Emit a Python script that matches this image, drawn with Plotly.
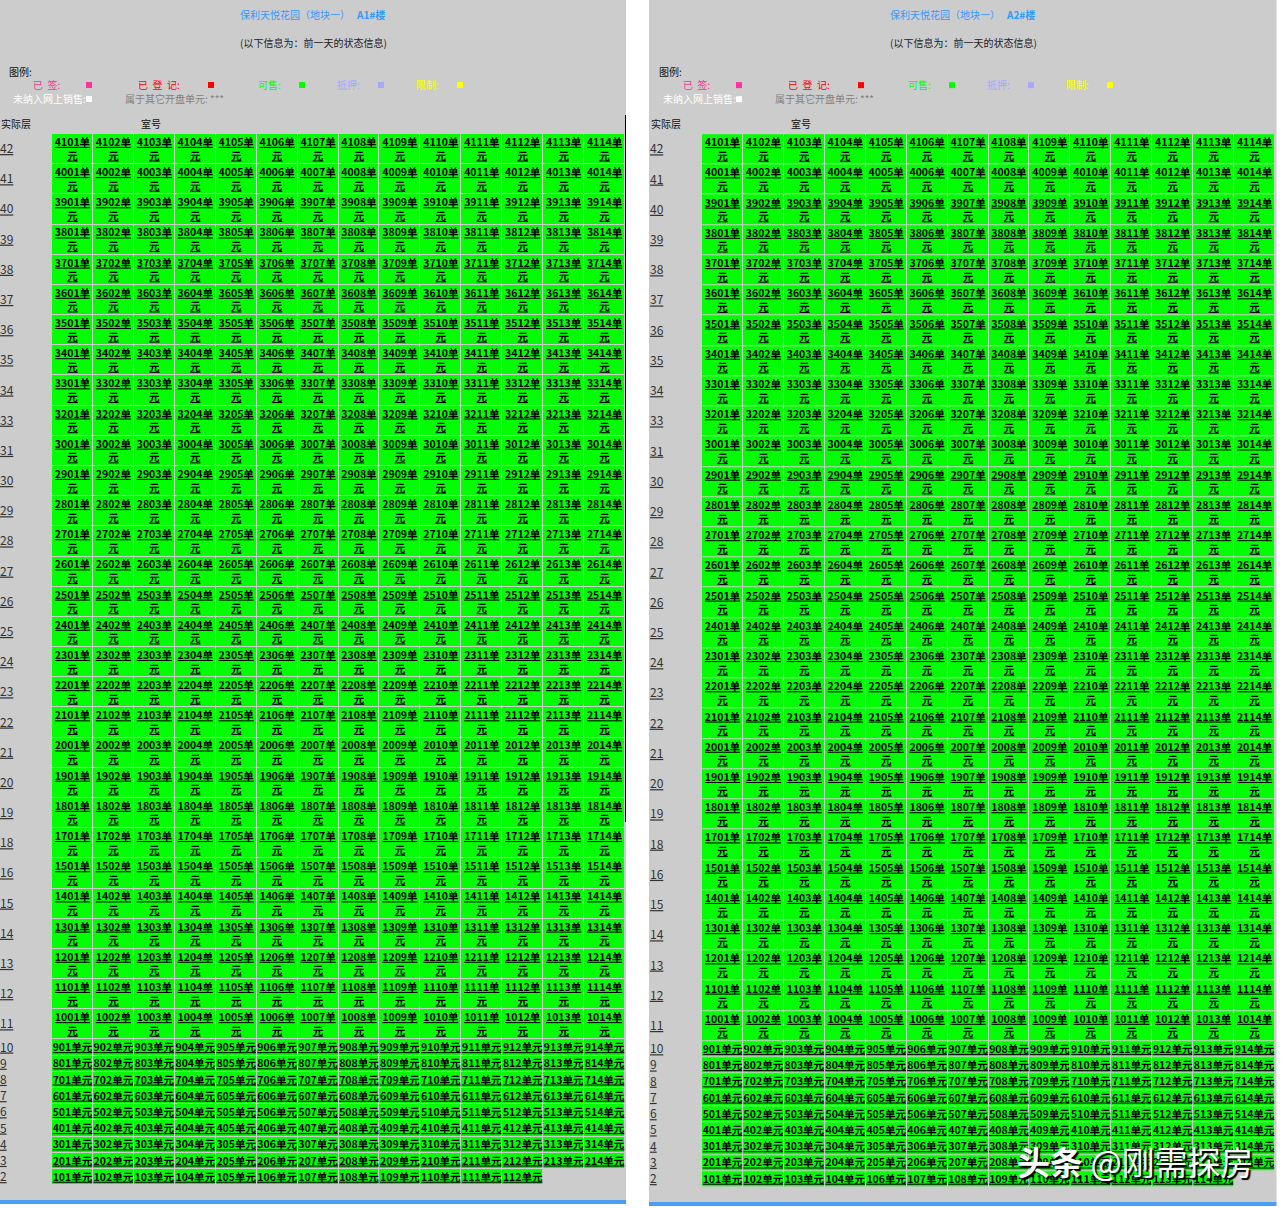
import numpy as np
import plotly.graph_objects as go

# 楼层和房号
floor_labels = [42, 41, 40, 39, 38, 37, 36, 35, 34, 33, 31, 30, 29, 28, 27, 26, 25, 24, 23, 22, 21, 20, 19, 18, 16, 15, 14, 13, 12, 11, 10, 9, 8, 7, 6, 5, 4, 3, 2]
room_prefixes = [41, 40, 39, 38, 37, 36, 35, 34, 33, 32, 30, 29, 28, 27, 26, 25, 24, 23, 22, 21, 20, 19, 18, 17, 15, 14, 13, 12, 11, 10, 9, 8, 7, 6, 5, 4, 3, 2, 1]
room_numbers = [1, 2, 3, 4, 5, 6, 7, 8, 9, 10, 11, 12, 13, 14]
last_row_a = [1, 2, 3, 4, 5, 6, 7, 8, 9, 10, 11, 12]
last_row_b = [1, 2, 3, 4, 6, 7, 8, 9, 10, 11, 12, 13, 14]
building_names = ["A1#楼", "A2#楼"]

project_title = "保利天悦花园（地块一）"
subtitle = "(以下信息为：前一天的状态信息)"
status_labels = ["已\u00a0\u00a0签:", "已\u00a0\u00a0登\u00a0\u00a0记:", "可售:", "抵押:", "限制:", "未纳入网上销售:"]
status_colors = ["#ff3399", "#ff0000", "#00ff00", "#a8a8ff", "#ffff00", "#ffffff"]

# mise en page (px)
GRID_LEFT = 52
COL_W = 40.93
GRID_TOP = 134
TALL = 30.18
SHORT = 16.2
FONT = "Noto Sans CJK SC"

status_text_x = [33, 138, 258, 337, 416, 13]
status_mark_x = [89, 211, 302, 381, 460, 89]
status_y = [85, 85, 85, 85, 85, 99]

heights = [TALL if p >= 10 else SHORT for p in room_prefixes]
y_edges = GRID_TOP + np.concatenate([[0], np.cumsum(heights)])
x_edges = GRID_LEFT + COL_W * np.arange(15)
y_mid = (y_edges[:-1] + y_edges[1:]) / 2

fig = go.Figure()
annotations = []


def note(axis, x, y, text, color="#222222", size=10, anchor="left", **kw):
    # -2 / -1 : les annotations ont un petit padding
    annotations.append(dict(x=x - 2 if anchor == "left" else x, y=y - 1, xref="x" + axis, yref="y" + axis, text=text,
                            showarrow=False, xanchor=anchor, yanchor="middle",
                            font=dict(family=FONT, size=size, color=color, **kw)))


def draw_panel(axis, building, last_row):
    rows = []
    for p in room_prefixes[:-1]:
        rows.append(room_numbers)
    rows.append(last_row)

    z = np.full((len(rows), 14), np.nan)
    tx, ty, labels = [], [], []
    for i, row in enumerate(rows):
        for j, num in enumerate(row):
            z[i, j] = 1
            tx.append(x_edges[j] + COL_W / 2)
            ty.append(y_mid[i] + 1)
            if room_prefixes[i] >= 10:
                labels.append(f"{room_prefixes[i]}{num:02d}单<br>元")
            else:
                labels.append(f"{room_prefixes[i]}{num:02d}单元")

    fig.add_trace(go.Heatmap(z=z, x=x_edges, y=y_edges, xgap=1, ygap=1, zmin=0, zmax=1,
                             colorscale=[[0, "#00ff00"], [1, "#00ff00"]], showscale=False, hoverinfo="skip",
                             xaxis="x" + axis, yaxis="y" + axis))
    fig.add_trace(go.Scatter(x=tx, y=ty, mode="text", text=labels, hoverinfo="skip", showlegend=False,
                             textfont=dict(family=FONT, size=10.5, color="black", weight=700, lineposition="under"),
                             xaxis="x" + axis, yaxis="y" + axis))
    # étages à gauche
    fig.add_trace(go.Scatter(x=[0] * len(floor_labels), y=y_mid + 1, mode="text", text=[str(f) for f in floor_labels],
                             textposition="middle right", hoverinfo="skip", showlegend=False,
                             textfont=dict(family=FONT, size=12, color="#333333", lineposition="under"),
                             xaxis="x" + axis, yaxis="y" + axis))
    # carrés de la légende
    fig.add_trace(go.Scatter(x=status_mark_x, y=status_y, mode="markers", hoverinfo="skip", showlegend=False,
                             marker=dict(symbol="square", size=6, color=status_colors, line=dict(width=0)),
                             xaxis="x" + axis, yaxis="y" + axis))

    note(axis, 240, 15.5, project_title, "#3399ff")
    note(axis, 356, 15.5, building, "#3399ff", weight=700)
    note(axis, 240, 43.5, subtitle, "#222222")
    note(axis, 9, 72, "图例:", "#111111")
    for label, color, x, y in zip(status_labels, status_colors, status_text_x, status_y):
        note(axis, x, y, label, color)
    note(axis, 125, 99, "属于其它开盘单元: ***", "#808080")
    note(axis, 16, 124.5, "实际层", "#111111", anchor="center")
    note(axis, 141, 124.5, "室号", "#111111")


draw_panel("", building_names[0], last_row_a)
draw_panel("2", building_names[1], last_row_b)

# bande bleue en bas + trait noir
shapes = [
    dict(type="rect", xref="paper", yref="paper", x0=0, x1=626 / 1284, y0=1 - 1204 / 1208, y1=1 - 1200 / 1208,
         fillcolor="#4a9df0", line_width=0),
    dict(type="rect", xref="paper", yref="paper", x0=649 / 1284, x1=1276.5 / 1284, y0=1 - 1206 / 1208, y1=1 - 1202 / 1208,
         fillcolor="#4a9df0", line_width=0),
    dict(type="line", xref="paper", yref="paper", x0=625.5 / 1284, x1=625.5 / 1284, y0=1 - 822 / 1208, y1=1 - 115 / 1208,
         line=dict(color="black", width=1)),
]

annotations.append(dict(x=1135 / 1284, y=1 - 1161 / 1208, xref="paper", yref="paper", text="<b>头条</b> @刚需探房",
                        showarrow=False, xanchor="center", yanchor="middle",
                        font=dict(family=FONT, size=33, color="white", shadow="2px 2px 1px #000000")))

hidden = dict(visible=False, fixedrange=True)
fig.update_layout(
    width=1284, height=1208, autosize=False, margin=dict(l=0, r=0, t=0, b=0),
    paper_bgcolor="white", plot_bgcolor="#cccccc", showlegend=False,
    xaxis=dict(domain=[0, 626 / 1284], range=[0, 626], **hidden),
    yaxis=dict(domain=[1 - 1200 / 1208, 1], range=[1200, 0], **hidden),
    xaxis2=dict(domain=[649 / 1284, 1276.5 / 1284], range=[-1, 626.5], anchor="y2", **hidden),
    yaxis2=dict(domain=[1 - 1202 / 1208, 1], range=[1200, 0], anchor="x2", **hidden),
    annotations=annotations, shapes=shapes,
)

fig.write_html("out.html", config={"displayModeBar": False}, post_script="document.body.style.margin = '0';")
